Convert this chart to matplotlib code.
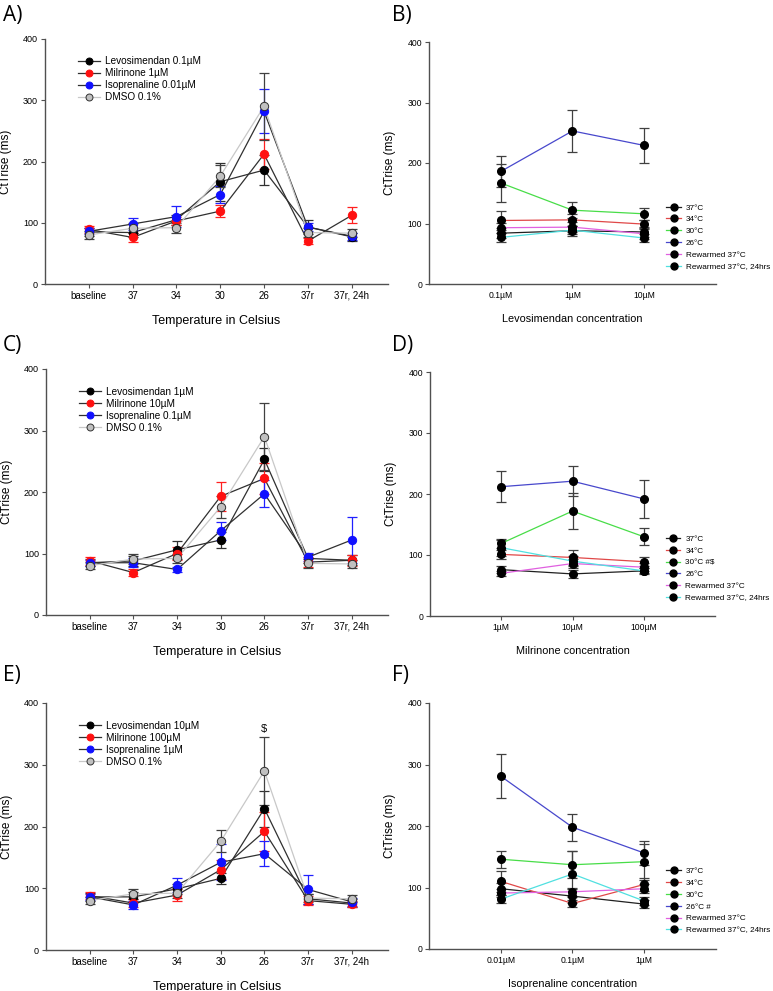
import matplotlib
matplotlib.use("Agg")
import matplotlib.pyplot as plt
from matplotlib.lines import Line2D
import numpy as np

# ---------------- data ----------------
temps = ["baseline", "37", "34", "30", "26", "37r", "37r, 24h"]

dmso = [80, 91, 92, 176, 290, 84, 83]
dmso_err = [6, 8, 8, 18, 55, 7, 6]

levo_A = [85, 84, 105, 167, 186, 93, 77]
levo_A_err = [6, 7, 8, 31, 25, 12, 7]
milr_A = [89, 76, 103, 119, 212, 70, 112]
milr_A_err = [6, 7, 6, 10, 25, 5, 13]
iso_A = [86, 98, 110, 146, 282, 93, 78]
iso_A_err = [5, 10, 17, 14, 36, 7, 6]

levo_C = [85, 88, 106, 122, 253, 92, 89]
levo_C_err = [6, 8, 15, 13, 19, 8, 8]
milr_C = [88, 69, 100, 193, 222, 86, 89]
milr_C_err = [6, 6, 10, 24, 25, 8, 9]
iso_C = [85, 85, 74, 137, 197, 94, 122]
iso_C_err = [5, 7, 4, 15, 22, 7, 37]

levo_E = [86, 86, 99, 116, 229, 83, 76]
levo_E_err = [6, 8, 8, 9, 29, 8, 6]
milr_E = [88, 76, 89, 130, 192, 80, 74]
milr_E_err = [6, 7, 9, 15, 32, 7, 5]
iso_E = [86, 73, 105, 142, 156, 98, 78]
iso_E_err = [5, 6, 11, 29, 20, 24, 7]

labels_A = ["Levosimendan 0.1\u00b5M", "Milrinone 1\u00b5M", "Isoprenaline 0.01\u00b5M", "DMSO 0.1%"]
labels_C = ["Levosimendan 1\u00b5M", "Milrinone 10\u00b5M", "Isoprenaline 0.1\u00b5M", "DMSO 0.1%"]
labels_E = ["Levosimendan 10\u00b5M", "Milrinone 100\u00b5M", "Isoprenaline 1\u00b5M", "DMSO 0.1%"]

conc_B = ["0.1\u00b5M", "1\u00b5M", "10\u00b5M"]
B_37 = [84, 88, 86]; B_37_err = [8, 8, 8]
B_34 = [105, 106, 99]; B_34_err = [15, 10, 7]
B_30 = [167, 122, 116]; B_30_err = [31, 13, 10]
B_26 = [186, 253, 229]; B_26_err = [25, 34, 29]
B_rw = [93, 94, 83]; B_rw_err = [8, 8, 8]
B_rw24 = [77, 89, 76]; B_rw24_err = [7, 7, 6]

conc_D = ["1\u00b5M", "10\u00b5M", "100\u00b5M"]
D_37 = [76, 69, 74]; D_37_err = [6, 6, 4]
D_34 = [101, 96, 89]; D_34_err = [8, 12, 7]
D_30 = [119, 172, 130]; D_30_err = [8, 29, 14]
D_26 = [212, 221, 192]; D_26_err = [25, 25, 31]
D_rw = [70, 86, 80]; D_rw_err = [4, 8, 7]
D_rw24 = [112, 90, 74]; D_rw24_err = [13, 8, 5]

conc_F = ["0.01\u00b5M", "0.1\u00b5M", "1\u00b5M"]
F_37 = [98, 86, 73]; F_37_err = [10, 12, 6]
F_34 = [110, 74, 105]; F_34_err = [17, 5, 11]
F_30 = [146, 137, 142]; F_30_err = [14, 22, 29]
F_26 = [281, 198, 156]; F_26_err = [36, 22, 20]
F_rw = [91, 93, 98]; F_rw_err = [7, 7, 7]
F_rw24 = [81, 122, 78]; F_rw24_err = [6, 37, 7]

temp_labels_B = ["37\u00b0C", "34\u00b0C", "30\u00b0C", "26\u00b0C", "Rewarmed 37\u00b0C", "Rewarmed 37\u00b0C, 24hrs"]
temp_labels_D = ["37\u00b0C", "34\u00b0C", "30\u00b0C #$", "26\u00b0C", "Rewarmed 37\u00b0C", "Rewarmed 37\u00b0C, 24hrs"]
temp_labels_F = ["37\u00b0C", "34\u00b0C", "30\u00b0C", "26\u00b0C #", "Rewarmed 37\u00b0C", "Rewarmed 37\u00b0C, 24hrs"]

# ---------------- style ----------------
W, H = 773, 991
fig = plt.figure(figsize=(W / 100, H / 100), dpi=100)

SANS = ["Liberation Sans", "DejaVu Sans"]
NARROW = ["Liberation Sans", "DejaVu Sans"]
LETTER = ["Open Sans", "DejaVu Sans"]
SPINE = "#505050"

def px_axes(l, t, r, b):
    return fig.add_axes([l / W, 1 - b / H, (r - l) / W, (b - t) / H])

def style(ax, fam):
    for s in ("top", "right"):
        ax.spines[s].set_visible(False)
    for s in ("left", "bottom"):
        ax.spines[s].set_color(SPINE)
        ax.spines[s].set_linewidth(1.0)
    ax.set_ylim(0, 400)
    ax.set_yticks([0, 100, 200, 300, 400])
    ax.tick_params(direction="out", length=3, width=0.8, color=SPINE, labelsize=6.5, pad=2)
    for lab in ax.get_xticklabels() + ax.get_yticklabels():
        lab.set_family(fam)
    ax.set_ylabel("CtTrise (ms)", fontsize=8.5, family=fam, labelpad=8)

def temp_panel(ax, series, errs, labels, dollar=False):
    x = np.arange(1, len(temps) + 1)
    mcol = ["black", "#ff1010", "#1010ff", "#c0c0c0"]
    lcol = ["#303030", "#303030", "#303030", "#c8c8c8"]
    ecol = ["#303030", "#ff2020", "#2020ff", "#404040"]
    handles = []
    for i, (y, e) in enumerate(zip(series, errs)):
        ax.errorbar(x, y, yerr=e, fmt="none", ecolor=ecol[i], elinewidth=0.9,
                    capsize=3.5, capthick=0.9, zorder=2 + i)
        ax.plot(x, y, color=lcol[i], lw=0.9, zorder=2 + i)
        ax.plot(x, y, "o", ms=6, mfc=mcol[i], mec="#303030" if i == 3 else mcol[i],
                mew=0.7, zorder=6 + i)
        handles.append(Line2D([], [], color=lcol[i], lw=0.9, marker="o", ms=5,
                              mfc=mcol[i], mec="#303030" if i == 3 else mcol[i], mew=0.7))
    ax.set_xlim(0, 7.83)
    ax.set_xticks(x)
    ax.set_xticklabels(temps)
    style(ax, SANS)
    ax.tick_params(axis="x", labelsize=7)
    ax.set_xlabel("Temperature in Celsius", fontsize=9, family=SANS, labelpad=10)
    ax.legend(handles, labels, loc="upper left", bbox_to_anchor=(0.085, 0.945), frameon=False,
              prop={"family": SANS, "size": 7.2}, handlelength=2.2, handletextpad=0.5,
              labelspacing=0.2, borderaxespad=0)
    if dollar:
        ax.text(5, 358, "$", ha="center", va="center", fontsize=8, family=SANS)

def conc_panel(ax, conc, series, errs, labels, xlabel):
    x = np.arange(1, len(conc) + 1)
    cols = ["#202020", "#e04848", "#48dd48", "#4848cc", "#e060e0", "#50e0e0"]
    handles = []
    for i, (y, e) in enumerate(zip(series, errs)):
        ax.errorbar(x, y, yerr=e, fmt="none", ecolor="#404040", elinewidth=0.9,
                    capsize=3.5, capthick=0.9, zorder=2)
        ax.plot(x, y, color=cols[i], lw=0.9, zorder=3)
        handles.append(Line2D([], [], color=cols[i], lw=0.9, marker="o", ms=5,
                              mfc="black", mec="black"))
    for y in series:
        ax.plot(x, y, "o", ms=5.5, mfc="black", mec="black", zorder=5)
    ax.set_xlim(0, 4)
    ax.set_xticks(x)
    ax.set_xticklabels(conc)
    style(ax, NARROW)
    ax.tick_params(axis="x", labelsize=6.2)
    ax.tick_params(axis="y", labelsize=6.2)
    ax.set_xlabel(xlabel, fontsize=7.8, family=NARROW, labelpad=10)
    ax.legend(handles, labels, loc="upper left", bbox_to_anchor=(0.815, 0.345), frameon=False,
              prop={"family": NARROW, "size": 5.9}, handlelength=1.8, handletextpad=0.6,
              labelspacing=0.5, borderaxespad=0)

# ---------------- panels ----------------
axA = px_axes(45, 39, 388, 284)
temp_panel(axA, [levo_A, milr_A, iso_A, dmso], [levo_A_err, milr_A_err, iso_A_err, dmso_err], labels_A)
axC = px_axes(46, 369, 388, 615)
temp_panel(axC, [levo_C, milr_C, iso_C, dmso], [levo_C_err, milr_C_err, iso_C_err, dmso_err], labels_C)
axE = px_axes(46, 703, 388, 950)
temp_panel(axE, [levo_E, milr_E, iso_E, dmso], [levo_E_err, milr_E_err, iso_E_err, dmso_err], labels_E, dollar=True)

axB = px_axes(429, 42, 716, 284)
conc_panel(axB, conc_B, [B_37, B_34, B_30, B_26, B_rw, B_rw24],
           [B_37_err, B_34_err, B_30_err, B_26_err, B_rw_err, B_rw24_err],
           temp_labels_B, "Levosimendan concentration")
axD = px_axes(430, 372, 715, 616)
conc_panel(axD, conc_D, [D_37, D_34, D_30, D_26, D_rw, D_rw24],
           [D_37_err, D_34_err, D_30_err, D_26_err, D_rw_err, D_rw24_err],
           temp_labels_D, "Milrinone concentration")
axF = px_axes(429, 703, 716, 949)
conc_panel(axF, conc_F, [F_37, F_34, F_30, F_26, F_rw, F_rw24],
           [F_37_err, F_34_err, F_30_err, F_26_err, F_rw_err, F_rw24_err],
           temp_labels_F, "Isoprenaline concentration")

for lab, (px, py) in zip("ABCDEF", [(3, 15), (392, 15), (3, 345), (392, 345), (3, 675), (392, 675)]):
    fig.text(px / W, 1 - py / H, lab + ")", fontsize=15, family=LETTER, ha="left", va="center")

fig.savefig("out.png", dpi=100)
